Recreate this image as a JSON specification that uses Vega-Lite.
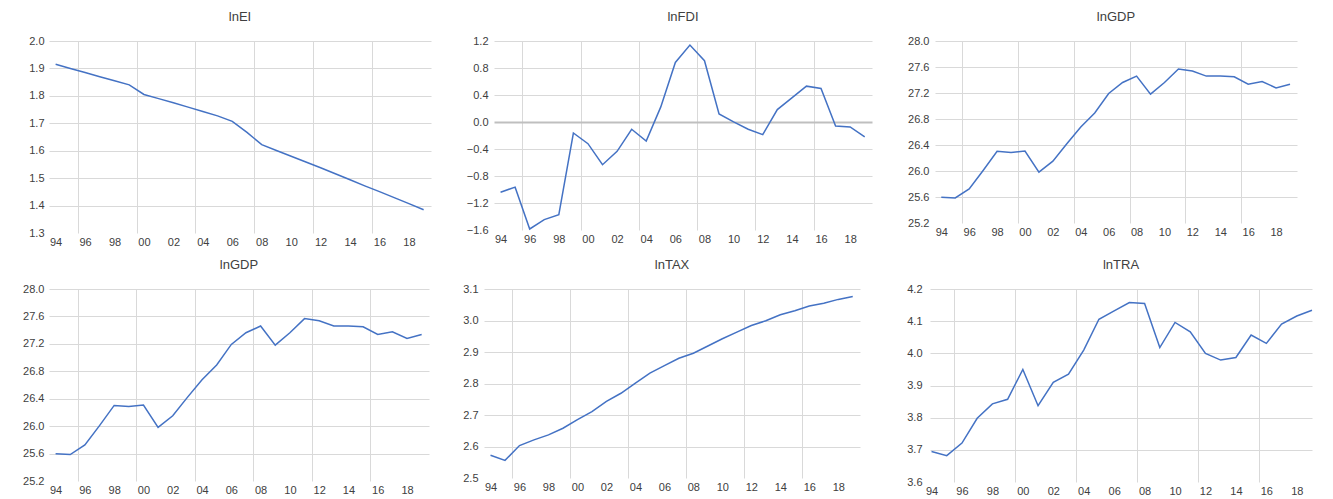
{
  "$schema": "https://vega.github.io/schema/vega-lite/v6.json",
  "padding": {"left": 10, "top": 11, "right": 0, "bottom": 0},
  "background": "white",
  "config": {
    "view": {"stroke": null},
    "font": "Liberation Sans",
    "title": {"fontSize": 13, "fontWeight": "normal", "color": "#404040", "font": "Liberation Sans", "anchor": "middle", "offset": 11},
    "axis": {"labelFont": "Liberation Sans", "labelFontSize": 11, "labelColor": "#404040", "gridColor": "#d9d9d9", "gridWidth": 1, "ticks": false, "domain": false, "title": null, "labelOverlap": false, "labelFlush": false},
    "line": {"color": "#4472C4", "strokeWidth": 1.5}
  },
  "datasets": {
    "EI": [
      {"year": 1994, "v": 1.915}, {"year": 1995, "v": 1.900}, {"year": 1996, "v": 1.885}, {"year": 1997, "v": 1.870},
      {"year": 1998, "v": 1.855}, {"year": 1999, "v": 1.840}, {"year": 2000, "v": 1.805}, {"year": 2001, "v": 1.790},
      {"year": 2002, "v": 1.775}, {"year": 2003, "v": 1.759}, {"year": 2004, "v": 1.743}, {"year": 2005, "v": 1.727},
      {"year": 2006, "v": 1.707}, {"year": 2007, "v": 1.667}, {"year": 2008, "v": 1.622}, {"year": 2009, "v": 1.601},
      {"year": 2010, "v": 1.580}, {"year": 2011, "v": 1.559}, {"year": 2012, "v": 1.538}, {"year": 2013, "v": 1.516},
      {"year": 2014, "v": 1.494}, {"year": 2015, "v": 1.472}, {"year": 2016, "v": 1.451}, {"year": 2017, "v": 1.429},
      {"year": 2018, "v": 1.407}, {"year": 2019, "v": 1.385}
    ],
    "FDI": [
      {"year": 1994, "v": -1.04}, {"year": 1995, "v": -0.965}, {"year": 1996, "v": -1.585}, {"year": 1997, "v": -1.446},
      {"year": 1998, "v": -1.372}, {"year": 1999, "v": -0.163}, {"year": 2000, "v": -0.321}, {"year": 2001, "v": -0.633},
      {"year": 2002, "v": -0.435}, {"year": 2003, "v": -0.108}, {"year": 2004, "v": -0.282}, {"year": 2005, "v": 0.224},
      {"year": 2006, "v": 0.883}, {"year": 2007, "v": 1.14}, {"year": 2008, "v": 0.908}, {"year": 2009, "v": 0.12},
      {"year": 2010, "v": 0.001}, {"year": 2011, "v": -0.108}, {"year": 2012, "v": -0.187}, {"year": 2013, "v": 0.184},
      {"year": 2014, "v": 0.358}, {"year": 2015, "v": 0.531}, {"year": 2016, "v": 0.496}, {"year": 2017, "v": -0.059},
      {"year": 2018, "v": -0.074}, {"year": 2019, "v": -0.222}
    ],
    "GDP": [
      {"year": 1994, "v": 25.597}, {"year": 1995, "v": 25.586}, {"year": 1996, "v": 25.725}, {"year": 1997, "v": 26.008},
      {"year": 1998, "v": 26.302}, {"year": 1999, "v": 26.286}, {"year": 2000, "v": 26.307}, {"year": 2001, "v": 25.983},
      {"year": 2002, "v": 26.152}, {"year": 2003, "v": 26.42}, {"year": 2004, "v": 26.677}, {"year": 2005, "v": 26.893},
      {"year": 2006, "v": 27.192}, {"year": 2007, "v": 27.362}, {"year": 2008, "v": 27.46}, {"year": 2009, "v": 27.182},
      {"year": 2010, "v": 27.362}, {"year": 2011, "v": 27.568}, {"year": 2012, "v": 27.537}, {"year": 2013, "v": 27.46},
      {"year": 2014, "v": 27.46}, {"year": 2015, "v": 27.449}, {"year": 2016, "v": 27.336}, {"year": 2017, "v": 27.377},
      {"year": 2018, "v": 27.279}, {"year": 2019, "v": 27.336}
    ],
    "TAX": [
      {"year": 1994, "v": 2.572}, {"year": 1995, "v": 2.556}, {"year": 1996, "v": 2.603}, {"year": 1997, "v": 2.621},
      {"year": 1998, "v": 2.637}, {"year": 1999, "v": 2.658}, {"year": 2000, "v": 2.685}, {"year": 2001, "v": 2.711},
      {"year": 2002, "v": 2.743}, {"year": 2003, "v": 2.769}, {"year": 2004, "v": 2.801}, {"year": 2005, "v": 2.833},
      {"year": 2006, "v": 2.857}, {"year": 2007, "v": 2.880}, {"year": 2008, "v": 2.896}, {"year": 2009, "v": 2.919},
      {"year": 2010, "v": 2.942}, {"year": 2011, "v": 2.963}, {"year": 2012, "v": 2.984}, {"year": 2013, "v": 2.999},
      {"year": 2014, "v": 3.018}, {"year": 2015, "v": 3.031}, {"year": 2016, "v": 3.046}, {"year": 2017, "v": 3.055},
      {"year": 2018, "v": 3.067}, {"year": 2019, "v": 3.076}
    ],
    "TRA": [
      {"year": 1994, "v": 3.695}, {"year": 1995, "v": 3.682}, {"year": 1996, "v": 3.721}, {"year": 1997, "v": 3.798},
      {"year": 1998, "v": 3.843}, {"year": 1999, "v": 3.857}, {"year": 2000, "v": 3.950}, {"year": 2001, "v": 3.837},
      {"year": 2002, "v": 3.910}, {"year": 2003, "v": 3.935}, {"year": 2004, "v": 4.010}, {"year": 2005, "v": 4.106},
      {"year": 2006, "v": 4.132}, {"year": 2007, "v": 4.158}, {"year": 2008, "v": 4.155}, {"year": 2009, "v": 4.018},
      {"year": 2010, "v": 4.096}, {"year": 2011, "v": 4.067}, {"year": 2012, "v": 4.000}, {"year": 2013, "v": 3.979},
      {"year": 2014, "v": 3.987}, {"year": 2015, "v": 4.057}, {"year": 2016, "v": 4.031}, {"year": 2017, "v": 4.091},
      {"year": 2018, "v": 4.116}, {"year": 2019, "v": 4.134}
    ]
  },
  "vconcat": [
    {
      "hconcat": [
        {
          "width": 382, "height": 192, "title": "lnEI", "data": {"name": "EI"}, "mark": "line",
          "encoding": {
            "x": {"field": "year", "type": "quantitative", "scale": {"domain": [1993.55, 2019.5], "nice": false, "zero": false},
              "axis": {"grid": true, "values": [1994, 1995.5, 1996, 1998, 1999.5, 2000, 2002, 2003.5, 2004, 2006, 2007.5, 2008, 2010, 2011.5, 2012, 2014, 2015.5, 2016, 2018],
                "labelExpr": "datum.value % 1 == 0 ? substring(toString(datum.value), 2) : ''", "labelPadding": 3,
                "gridOpacity": {"condition": {"test": "datum.value % 1 != 0", "value": 1}, "value": 0}}},
            "y": {"field": "v", "type": "quantitative", "scale": {"domain": [1.3, 2.0], "nice": false, "zero": false},
              "axis": {"values": [1.3, 1.4, 1.5, 1.6, 1.7, 1.8, 1.9, 2.0], "format": ".1f", "labelPadding": 5, "minExtent": 33, "maxExtent": 33,
                "gridOpacity": {"condition": {"test": "datum.value < 1.305", "value": 0}, "value": 1}}}
          }
        },
        {
          "width": 378, "height": 189, "title": "lnFDI", "data": {"name": "FDI"}, "mark": "line",
          "encoding": {
            "x": {"field": "year", "type": "quantitative", "scale": {"domain": [1993.55, 2019.5], "nice": false, "zero": false},
              "axis": {"grid": true, "values": [1994, 1995.5, 1996, 1998, 1999.5, 2000, 2002, 2003.5, 2004, 2006, 2007.5, 2008, 2010, 2011.5, 2012, 2014, 2015.5, 2016, 2018],
                "labelExpr": "datum.value % 1 == 0 ? substring(toString(datum.value), 2) : ''", "labelPadding": 3,
                "gridOpacity": {"condition": {"test": "datum.value % 1 != 0", "value": 1}, "value": 0}}},
            "y": {"field": "v", "type": "quantitative", "scale": {"domain": [-1.6, 1.2], "nice": false, "zero": false},
              "axis": {"values": [-1.6, -1.2, -0.8, -0.4, 0, 0.4, 0.8, 1.2], "format": ".1f", "labelPadding": 6, "minExtent": 33, "maxExtent": 33,
                "gridOpacity": {"condition": {"test": "datum.value < -1.595", "value": 0}, "value": 1},
                "gridColor": {"condition": {"test": "abs(datum.value) < 0.001", "value": "#bfbfbf"}, "value": "#d9d9d9"},
                "gridWidth": {"condition": {"test": "abs(datum.value) < 0.001", "value": 2}, "value": 1}}}
          }
        },
        {
          "width": 362, "height": 182, "title": "lnGDP", "data": {"name": "GDP"}, "mark": "line",
          "encoding": {
            "x": {"field": "year", "type": "quantitative", "scale": {"domain": [1993.55, 2019.5], "nice": false, "zero": false},
              "axis": {"grid": true, "values": [1994, 1995.5, 1996, 1998, 1999.5, 2000, 2002, 2003.5, 2004, 2006, 2007.5, 2008, 2010, 2011.5, 2012, 2014, 2015.5, 2016, 2018],
                "labelExpr": "datum.value % 1 == 0 ? substring(toString(datum.value), 2) : ''", "labelPadding": 3,
                "gridOpacity": {"condition": {"test": "datum.value % 1 != 0", "value": 1}, "value": 0}}},
            "y": {"field": "v", "type": "quantitative", "scale": {"domain": [25.2, 28.0], "nice": false, "zero": false},
              "axis": {"values": [25.2, 25.6, 26.0, 26.4, 26.8, 27.2, 27.6, 28.0], "format": ".1f", "labelPadding": 6, "minExtent": 33, "maxExtent": 33,
                "gridOpacity": {"condition": {"test": "datum.value < 25.205", "value": 0}, "value": 1}}}
          }
        }
      ],
      "spacing": 30
    },
    {
      "hconcat": [
        {
          "width": 380, "height": 192, "title": "lnGDP", "data": {"name": "GDP"}, "mark": "line",
          "encoding": {
            "x": {"field": "year", "type": "quantitative", "scale": {"domain": [1993.55, 2019.5], "nice": false, "zero": false},
              "axis": {"grid": true, "values": [1994, 1995.5, 1996, 1998, 1999.5, 2000, 2002, 2003.5, 2004, 2006, 2007.5, 2008, 2010, 2011.5, 2012, 2014, 2015.5, 2016, 2018],
                "labelExpr": "datum.value % 1 == 0 ? substring(toString(datum.value), 2) : ''", "labelPadding": 3,
                "gridOpacity": {"condition": {"test": "datum.value % 1 != 0", "value": 1}, "value": 0}}},
            "y": {"field": "v", "type": "quantitative", "scale": {"domain": [25.2, 28.0], "nice": false, "zero": false},
              "axis": {"values": [25.2, 25.6, 26.0, 26.4, 26.8, 27.2, 27.6, 28.0], "format": ".1f", "labelPadding": 5, "minExtent": 39, "maxExtent": 39,
                "gridOpacity": {"condition": {"test": "datum.value < 25.205", "value": 0}, "value": 1}}}
          }
        },
        {
          "width": 376, "height": 189, "title": "lnTAX", "data": {"name": "TAX"}, "mark": "line",
          "encoding": {
            "x": {"field": "year", "type": "quantitative", "scale": {"domain": [1993.55, 2019.5], "nice": false, "zero": false},
              "axis": {"grid": true, "values": [1994, 1995.5, 1996, 1998, 1999.5, 2000, 2002, 2003.5, 2004, 2006, 2007.5, 2008, 2010, 2011.5, 2012, 2014, 2015.5, 2016, 2018],
                "labelExpr": "datum.value % 1 == 0 ? substring(toString(datum.value), 2) : ''", "labelPadding": 3,
                "gridOpacity": {"condition": {"test": "datum.value % 1 != 0", "value": 1}, "value": 0}}},
            "y": {"field": "v", "type": "quantitative", "scale": {"domain": [2.5, 3.1], "nice": false, "zero": false},
              "axis": {"values": [2.5, 2.6, 2.7, 2.8, 2.9, 3.0, 3.1], "format": ".1f", "labelPadding": 6, "minExtent": 25, "maxExtent": 25,
                "gridOpacity": {"condition": {"test": "datum.value < 2.505", "value": 0}, "value": 1}}}
          }
        },
        {
          "width": 382, "height": 193, "title": "lnTRA", "data": {"name": "TRA"}, "mark": "line",
          "encoding": {
            "x": {"field": "year", "type": "quantitative", "scale": {"domain": [1993.9, 2019.0], "nice": false, "zero": false},
              "axis": {"grid": true, "values": [1994, 1995.5, 1996, 1998, 1999.5, 2000, 2002, 2003.5, 2004, 2006, 2007.5, 2008, 2010, 2011.5, 2012, 2014, 2015.5, 2016, 2018],
                "labelExpr": "datum.value % 1 == 0 ? substring(toString(datum.value), 2) : ''", "labelPadding": 3,
                "gridOpacity": {"condition": {"test": "datum.value % 1 != 0", "value": 1}, "value": 0}}},
            "y": {"field": "v", "type": "quantitative", "scale": {"domain": [3.6, 4.2], "nice": false, "zero": false},
              "axis": {"values": [3.6, 3.7, 3.8, 3.9, 4.0, 4.1, 4.2], "format": ".1f", "labelPadding": 8, "minExtent": 40, "maxExtent": 40,
                "gridOpacity": {"condition": {"test": "datum.value < 3.605", "value": 0}, "value": 1}}}
          }
        }
      ],
      "spacing": 30
    }
  ],
  "spacing": 12
}
